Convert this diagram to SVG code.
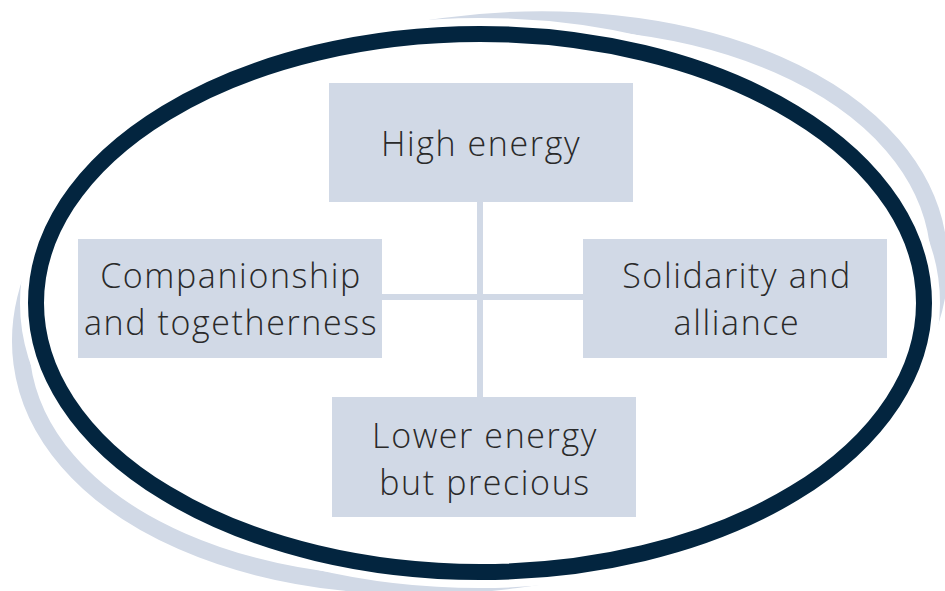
<svg xmlns="http://www.w3.org/2000/svg" width="945" height="591" viewBox="0 0 945 591">
<style>
.box{fill:#d1d9e6}
.lbl{font-family:"Open Sans",Lato,"Liberation Sans",sans-serif;font-weight:300;font-size:34px;letter-spacing:1.6px;fill:#2a2a2a;text-anchor:middle}
.conn{stroke:#d1d9e6;stroke-width:6;fill:none}
</style>
<rect width="945" height="591" fill="#ffffff"/>
<g id="ring">
<ellipse cx="480" cy="303" rx="462" ry="279" transform="rotate(-7.5 480 303)" fill="none" stroke="#d1d9e6" stroke-width="17"/>
<ellipse cx="480" cy="303" rx="444" ry="269" fill="#ffffff" stroke="#ffffff" stroke-width="32"/>
<ellipse cx="480" cy="303" rx="444" ry="269" fill="#ffffff" stroke="#03253f" stroke-width="16"/>
</g>
<g id="connectors">
<line class="conn" x1="480" y1="202" x2="480" y2="397"/>
<line class="conn" x1="382" y1="297" x2="583" y2="297"/>
</g>
<g id="node-high">
<rect class="box" x="329" y="83" width="304" height="119"/>
<text class="lbl" x="481" y="156">High energy</text>
</g>
<g id="node-companionship">
<rect class="box" x="78" y="239" width="304" height="119"/>
<text class="lbl" x="231" y="288">Companionship</text>
<text class="lbl" x="231" y="335">and togetherness</text>
</g>
<g id="node-solidarity">
<rect class="box" x="583" y="239" width="304" height="119"/>
<text class="lbl" x="737" y="288">Solidarity and</text>
<text class="lbl" x="737" y="335">alliance</text>
</g>
<g id="node-lower">
<rect class="box" x="332" y="397" width="304" height="120"/>
<text class="lbl" x="485" y="448">Lower energy</text>
<text class="lbl" x="485" y="495">but precious</text>
</g>
</svg>
